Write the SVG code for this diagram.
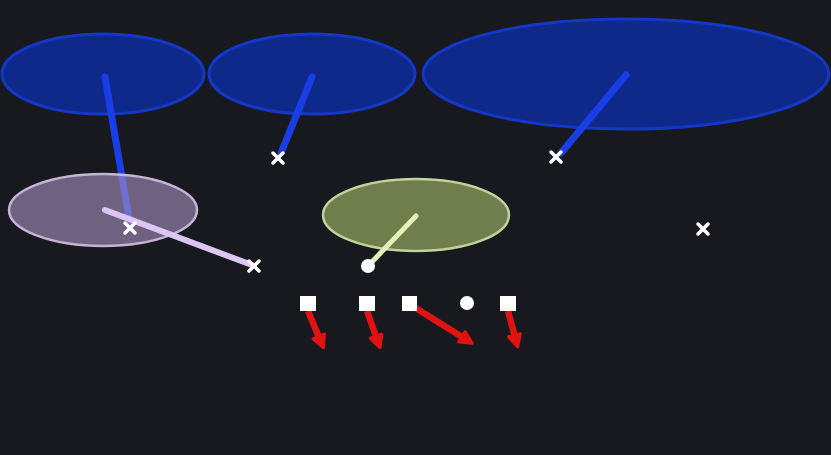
<svg xmlns="http://www.w3.org/2000/svg" width="831" height="455" viewBox="0 0 831 455">
<style>
.zone-blue{fill:#0f2a8f;stroke:#1538cc;stroke-width:3;opacity:0.97}
.zone-lav{fill:#a893c1;fill-opacity:0.6;stroke:#c4b4d6;stroke-width:2.5}
.zone-green{fill:#74844f;stroke:#ccdca4;stroke-width:2.5;opacity:0.95}
.blue{stroke:#1a3ee6;stroke-width:7;stroke-linecap:round;fill:none}
.lav{stroke:#dcc6f2;stroke-width:6;stroke-linecap:round;fill:none}
.green{stroke:#e2f2b4;stroke-width:5;stroke-linecap:round;fill:none}
.red{stroke:#e01212;stroke-width:6.5;fill:none;marker-end:url(#ah)}
.x{stroke:#ffffff;stroke-width:3.5;stroke-linecap:round}
.sq{fill:#ffffff}
.dot{fill:#ffffff}
</style>
<defs>
<marker id="ah" viewBox="0 0 10 10" refX="5" refY="5" markerWidth="2.6" markerHeight="2.6" orient="auto" markerUnits="strokeWidth">
<path d="M1.5,1.5 L8.5,5 L1.5,8.5 Z" fill="#e01212" stroke="#e01212" stroke-width="2" stroke-linejoin="round"/>
</marker>
<g id="xm"><line class="x" x1="-5" y1="-5" x2="5" y2="5"/><line class="x" x1="5" y1="-5" x2="-5" y2="5"/></g>
</defs>
<rect width="831" height="455" fill="#17191e"/>
<g id="zones-deep">
<ellipse id="zone1" class="zone-blue" cx="103" cy="74" rx="101" ry="40"/>
<ellipse id="zone2" class="zone-blue" cx="312" cy="74" rx="103" ry="40"/>
<ellipse id="zone3" class="zone-blue" cx="626" cy="74" rx="203" ry="55"/>
</g>
<g id="connectors">
<line class="blue" x1="105" y1="77" x2="130" y2="224"/>
<line class="blue" x1="312" y1="77" x2="281" y2="153"/>
<line class="blue" x1="626" y1="75" x2="561" y2="153"/>
</g>
<g id="zones-under">
<ellipse id="zone4" class="zone-lav" cx="103" cy="210" rx="94" ry="36"/>
<ellipse id="zone5" class="zone-green" cx="416" cy="215" rx="93" ry="36"/>
</g>
<g id="connectors-under">
<line class="lav" x1="105" y1="210" x2="252" y2="265"/>
<line class="green" x1="416" y1="216" x2="368" y2="266"/>
<line class="red" x1="308" y1="311" x2="321" y2="342"/>
<line class="red" x1="367" y1="311" x2="378" y2="342"/>
<line class="red" x1="414" y1="307" x2="467" y2="340"/>
<line class="red" x1="508" y1="311" x2="516" y2="341"/>
</g>
<g id="players">
<use id="p1" href="#xm" x="130" y="228"/>
<use id="p2" href="#xm" x="278" y="158"/>
<use id="p3" href="#xm" x="556" y="157"/>
<use id="p4" href="#xm" x="254" y="266"/>
<use id="p5" href="#xm" x="703" y="229"/>
<circle id="qb" class="dot" cx="368" cy="266" r="7"/>
<circle id="c" class="dot" cx="467" cy="303" r="7"/>
<rect id="o1" class="sq" x="300" y="296" width="16" height="15"/>
<rect id="o2" class="sq" x="359" y="296" width="16" height="15"/>
<rect id="o3" class="sq" x="402" y="296" width="15" height="15"/>
<rect id="o4" class="sq" x="500" y="296" width="16" height="15"/>
</g>
</svg>
